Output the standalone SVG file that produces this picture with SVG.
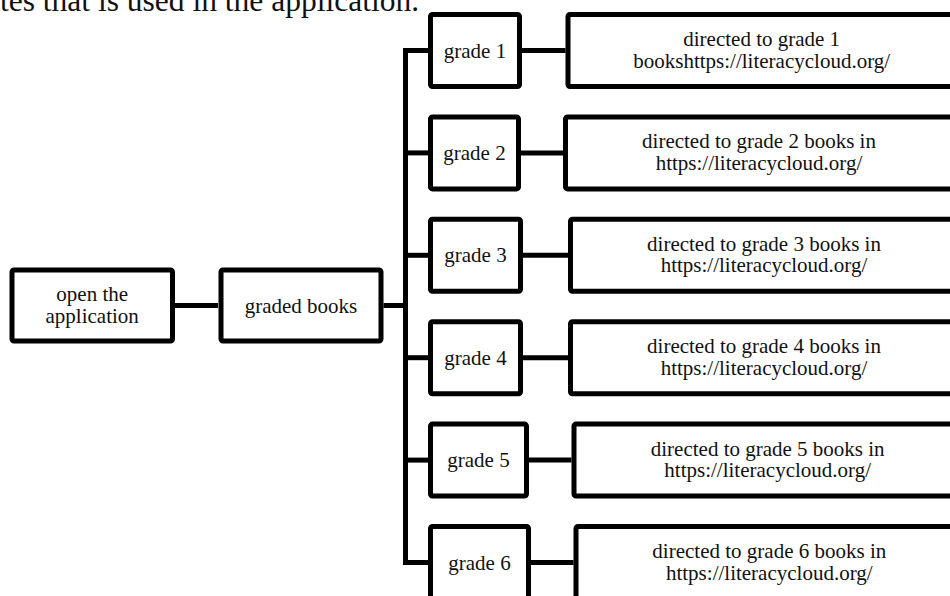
<svg xmlns="http://www.w3.org/2000/svg" width="950" height="596" viewBox="0 0 950 596">
<style>
.box{fill:#fff;stroke:#000;stroke-width:5;}
.ln{fill:none;stroke:#000;stroke-width:5;}
text{font-family:"Liberation Serif","Times New Roman",serif;font-size:21px;fill:#111;text-anchor:middle;}
.title{font-size:31.5px;text-anchor:start;}
</style>
<rect width="950" height="596" fill="#fff"/>
<text class="title" x="0" y="10.5">tes that is used in the application.</text>
<g id="connectors">
<path class="ln" d="M175,305.5H218"/>
<path class="ln" d="M383.5,305.5H405.5"/>
<path class="ln" d="M428,50.5H405.5V562.5H428"/>
<path class="ln" d="M405.5,152.9H428"/>
<path class="ln" d="M405.5,255.3H428"/>
<path class="ln" d="M405.5,357.7H428"/>
<path class="ln" d="M405.5,460.1H428"/>
<path class="ln" d="M522,50.5H565.5"/>
<path class="ln" d="M521,152.9H563"/>
<path class="ln" d="M523,255.3H568"/>
<path class="ln" d="M523,357.7H568"/>
<path class="ln" d="M529,460.1H571.5"/>
<path class="ln" d="M531,562.5H573.5"/>
</g>
<g id="open">
<rect class="box" x="12" y="270" width="160.5" height="71" rx="2"/>
<text x="92.2" y="301">open the<tspan x="92.2" dy="21.5">application</tspan></text>
</g>
<g id="graded">
<rect class="box" x="221" y="270" width="160" height="71" rx="2"/>
<text x="301" y="312.5">graded books</text>
</g>
<g id="grade1">
<rect class="box" x="430.5" y="14.5" width="89" height="72" rx="2"/>
<text x="475" y="57.5">grade 1</text>
</g>
<g id="grade2">
<rect class="box" x="430.5" y="116.9" width="88" height="72" rx="2"/>
<text x="474.5" y="159.9">grade 2</text>
</g>
<g id="grade3">
<rect class="box" x="430.5" y="219.3" width="90" height="72" rx="2"/>
<text x="475.5" y="262.3">grade 3</text>
</g>
<g id="grade4">
<rect class="box" x="430.5" y="321.7" width="90" height="72" rx="2"/>
<text x="475.5" y="364.7">grade 4</text>
</g>
<g id="grade5">
<rect class="box" x="430.5" y="424.1" width="96" height="72" rx="2"/>
<text x="478.5" y="467.1">grade 5</text>
</g>
<g id="grade6">
<rect class="box" x="430.5" y="526.5" width="98" height="72" rx="2"/>
<text x="479.5" y="569.5">grade 6</text>
</g>
<g id="result1">
<rect class="box" x="568" y="14.5" width="387" height="72" rx="2"/>
<text x="761.7" y="46">directed to grade 1<tspan x="761.7" dy="21.5">bookshttps://literacycloud.org/</tspan></text>
</g>
<g id="result2">
<rect class="box" x="565.5" y="116.9" width="387" height="72" rx="2"/>
<text x="759" y="148.4">directed to grade 2 books in<tspan x="759" dy="21.5">https://literacycloud.org/</tspan></text>
</g>
<g id="result3">
<rect class="box" x="570.5" y="219.3" width="387" height="72" rx="2"/>
<text x="764" y="250.8">directed to grade 3 books in<tspan x="764" dy="21.5">https://literacycloud.org/</tspan></text>
</g>
<g id="result4">
<rect class="box" x="570.5" y="321.7" width="387" height="72" rx="2"/>
<text x="764" y="353.2">directed to grade 4 books in<tspan x="764" dy="21.5">https://literacycloud.org/</tspan></text>
</g>
<g id="result5">
<rect class="box" x="574" y="424.1" width="387" height="72" rx="2"/>
<text x="767.7" y="455.6">directed to grade 5 books in<tspan x="767.7" dy="21.5">https://literacycloud.org/</tspan></text>
</g>
<g id="result6">
<rect class="box" x="576" y="526.5" width="387" height="72" rx="2"/>
<text x="769.3" y="558">directed to grade 6 books in<tspan x="769.3" dy="21.5">https://literacycloud.org/</tspan></text>
</g>
</svg>
